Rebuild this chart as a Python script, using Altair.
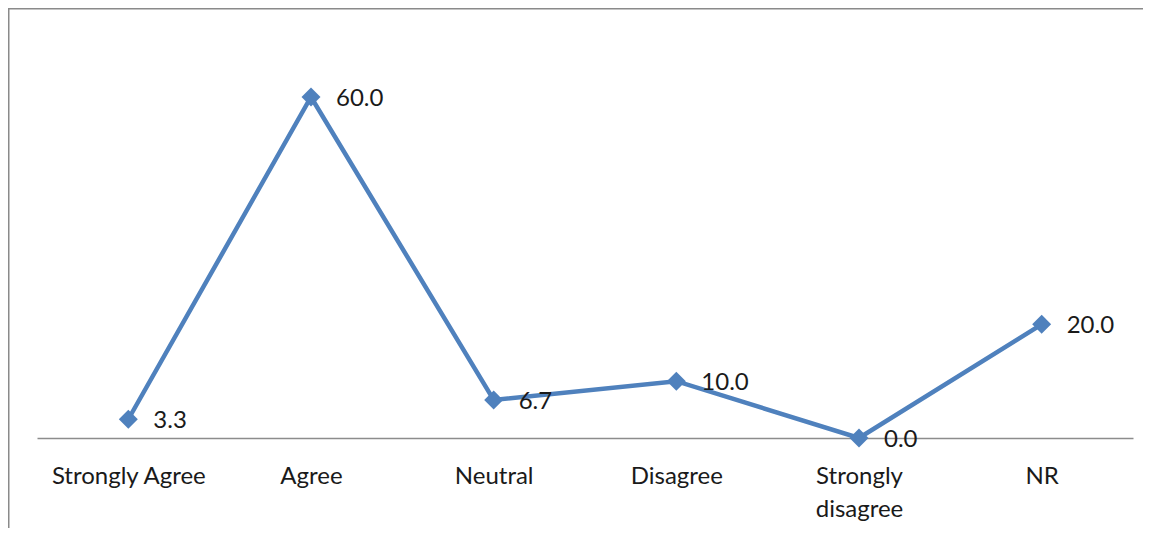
import altair as alt
import pandas as pd

categories = ["Strongly Agree", "Agree", "Neutral", "Disagree", "Strongly disagree", "NR"]
values = [3.3, 60.0, 6.7, 10.0, 0.0, 20.0]
labels = ["3.3", "60.0", "6.7", "10.0", "0.0", "20.0"]

df = pd.DataFrame({"cat": categories, "val": values, "lab": labels})

FONT = "Lato"
BLUE = "#4F81BD"

x_enc = alt.X(
    "cat:N",
    sort=categories,
    scale=alt.Scale(type="point", padding=0.5),
    axis=alt.Axis(
        title=None,
        labelAngle=0,
        ticks=False,
        grid=False,
        domainColor="#8c8c8c",
        domainWidth=1.5,
        labelFont=FONT,
        labelFontSize=24,
        labelColor="#1a1a1a",
        labelPadding=26,
        labelLineHeight=33,
        labelBaseline="top",
        labelExpr="datum.label == 'Strongly disagree' ? ['Strongly', 'disagree'] : datum.label",
    ),
)
y_enc = alt.Y("val:Q", scale=alt.Scale(domain=[0, 60], nice=False, zero=True), axis=None)

base = alt.Chart(df)

line = base.mark_line(color=BLUE, strokeWidth=4.5, clip=False).encode(x=x_enc, y=y_enc)
pts = base.mark_point(shape="diamond", filled=True, size=360, color=BLUE, opacity=1, clip=False).encode(
    x=x_enc, y=y_enc
)
txt = base.mark_text(
    align="left", baseline="middle", dx=25, dy=2, font=FONT, fontSize=24, color="#1a1a1a", clip=False
).encode(x=x_enc, y=y_enc, text="lab:N")

frame_df = pd.DataFrame({"a": [0]})
frame_top = alt.Chart(frame_df).mark_rule(stroke="#8a8a8a", strokeWidth=2, clip=False).encode(
    x=alt.value(-29), x2=alt.value(1120), y=alt.value(-88.5)
)
frame_left = alt.Chart(frame_df).mark_rule(stroke="#8a8a8a", strokeWidth=2, clip=False).encode(
    x=alt.value(-28.5), y=alt.value(-89), y2=alt.value(440)
)

chart = (
    alt.layer(frame_top, frame_left, line, pts, txt)
    .properties(
        width=1096,
        height=341,
        autosize=alt.AutoSizeParams(type="none"),
        padding={"left": 29, "top": 89, "right": 10, "bottom": 90},
        background="white",
    )
    .configure_view(strokeWidth=0, stroke="transparent")
)

chart.save("out.html", embed_options={"renderer": "svg", "actions": False})
